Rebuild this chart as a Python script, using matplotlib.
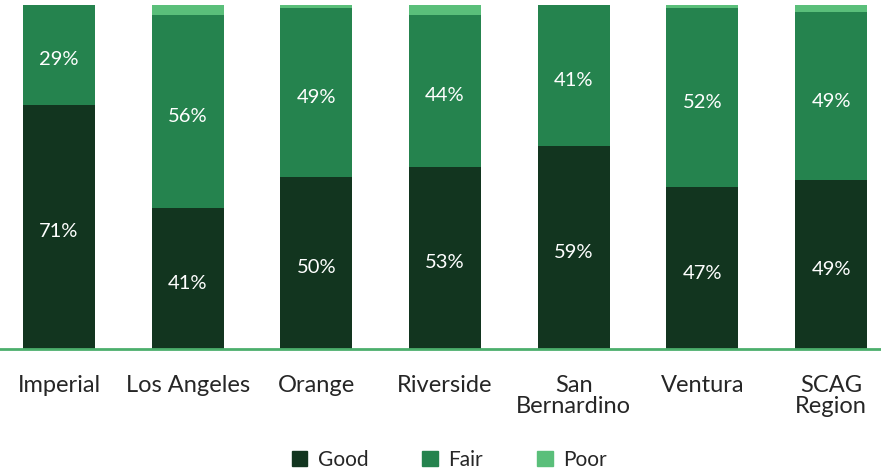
import numpy as np
import matplotlib
matplotlib.use('Agg')
import matplotlib.pyplot as plt
from matplotlib.patches import Patch

plt.rcParams['font.family'] = ['Lato', 'DejaVu Sans']

# pavement condition share by county
regions = ['Imperial', 'Los Angeles', 'Orange', 'Riverside',
           'San\nBernardino', 'Ventura', 'SCAG\nRegion']
good = [71, 41, 50, 53, 59, 47, 49]
fair = [29, 56, 49, 44, 41, 52, 49]
poor = [0, 3, 1, 3, 1, 1, 2]

c_good = '#12351f'
c_fair = '#25834e'
c_poor = '#5abf7a'

W, H = 881, 469
fig = plt.figure(figsize=(W / 100, H / 100), dpi=100)
ax = fig.add_axes([0, 1 - 349 / H, 1, 344 / H])

x = np.arange(len(regions))
bw = 0.56
ax.bar(x, good, bw, color=c_good)
ax.bar(x, fair, bw, bottom=good, color=c_fair)
ax.bar(x, poor, bw, bottom=np.add(good, fair), color=c_poor)

for i in range(len(regions)):
    ax.text(x[i], good[i] / 2 - 1, f'{good[i]}%', ha='center',
            va='center_baseline', color='white', fontsize=14.5)
    ax.text(x[i], good[i] + fair[i] / 2 - 1, f'{fair[i]}%', ha='center',
            va='center_baseline', color='white', fontsize=14.5)

ax.set_xlim(-0.459, 6.388)
ax.set_ylim(0, 100)
ax.set_yticks([])
ax.set_xticks(x)
ax.set_xticklabels(regions, fontsize=17, color='#262626', linespacing=0.97,
                   va='top')
ax.tick_params(axis='x', length=0, pad=19)
for s in ['top', 'right', 'left']:
    ax.spines[s].set_visible(False)
ax.spines['bottom'].set_color('#4caf6c')
ax.spines['bottom'].set_linewidth(2)

handles = [Patch(color=c_good, label='Good'),
           Patch(color=c_fair, label='Fair'),
           Patch(color=c_poor, label='Poor')]
fig.legend(handles=handles, loc='lower center', bbox_to_anchor=(0.51, -0.042),
           ncol=3, frameon=False, fontsize=15, handlelength=0.75,
           handleheight=0.75, handletextpad=0.5, columnspacing=2.6,
           labelcolor='#262626')

fig.savefig('out.png', dpi=100)
